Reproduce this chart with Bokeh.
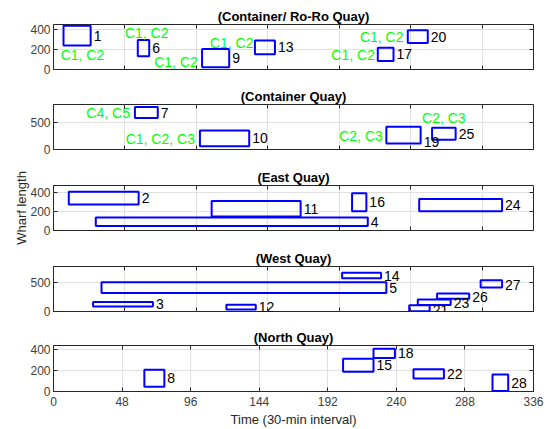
from bokeh.plotting import figure
from bokeh.models import ColumnDataSource, LinearAxis, FixedTicker, Range1d
from bokeh.layouts import column
from bokeh.embed import file_html
from bokeh.resources import INLINE
from bokeh.core.properties import value

FONT = "Liberation Sans"
AXC = "#262626"

# ---------------- data ----------------
x_ticks_top = [0, 50, 100, 150, 200, 250, 300]
x_ticks_bottom = [0, 48, 96, 144, 192, 240, 288, 336]

# (Container/ Ro-Ro Quay)
roro_ids = ["1", "6", "9", "13", "17", "20"]
roro_x0 = [7, 59, 104, 141, 227, 248]
roro_x1 = [26, 67, 123, 155, 238, 262]
roro_y0 = [240, 132, 23, 152, 85, 264]
roro_y1 = [437, 294, 205, 291, 218, 393]
roro_tag_text = ["C1, C2", "C1, C2", "C1, C2", "C1, C2", "C1, C2", "C1, C2"]
roro_tag_x = [5, 50, 101, 140, 225, 245]
roro_tag_y = [150, 368, 74, 269, 150, 324]
roro_tag_align = ["left", "left", "right", "right", "right", "right"]

# (Container Quay)
cont_ids = ["7", "10", "19", "25"]
cont_x0 = [57, 102.5, 233, 265]
cont_x1 = [73, 137, 257, 281.5]
cont_y0 = [586, 60, 110, 183]
cont_y1 = [793, 353, 427, 408]
cont_num_y = [None, None, 137, None]
cont_tag_text = ["C4, C5", "C1, C2, C3", "C2, C3", "C2, C3"]
cont_tag_x = [53.5, 99, 230.5, 258]
cont_tag_y = [674, 187, 260, 582]
cont_tag_align = ["right", "right", "right", "left"]

# (East Quay)
east_ids = ["2", "4", "11", "16", "24"]
east_x0 = [10.7, 29.6, 110.7, 209, 256]
east_x1 = [59.6, 220, 173, 219, 314]
east_y0 = [271, 46, 146, 202, 202]
east_y1 = [406, 135, 307, 390, 330]

# (West Quay)
west_ids = ["3", "5", "12", "14", "21", "23", "26", "27"]
west_x0 = [27.7, 33.6, 121, 202, 249, 255, 268.5, 299]
west_x1 = [69.6, 233, 141.6, 229.3, 263.3, 278, 291, 314]
west_y0 = [84, 320, 34, 572, 5, 113, 219, 415]
west_y1 = [163, 505, 118, 668, 106, 207, 308, 539]
west_num_y = [None, None, None, None, 20, 140, 255, 460]

# (North Quay)
north_ids = ["8", "15", "18", "22", "28"]
north_x0 = [63.6, 202.7, 224, 252, 307.3]
north_x1 = [77.6, 224, 239, 273.3, 318.3]
north_y0 = [45, 188, 321, 124, 5]
north_y1 = [207, 314, 410, 213, 162]


def style_axis(ax, ticks, show_labels, standoff=3):
    ax.ticker = FixedTicker(ticks=ticks)
    ax.major_tick_in = 4
    ax.major_tick_out = 0
    ax.minor_tick_line_color = None
    ax.axis_line_color = None
    ax.major_tick_line_color = AXC
    ax.major_label_text_font = FONT
    if show_labels:
        ax.major_label_text_color = "#404040"
        ax.major_label_text_font_size = "12px"
        ax.major_label_standoff = standoff
    else:
        ax.major_label_text_color = None
        ax.major_label_text_font_size = "0px"
        ax.major_label_standoff = 0


def make_fig(title, ids, x0, x1, y0, y1, ymax, yticks, bottom_ticks, xlabels,
             height, top_b, bottom_b, num_y=None, tags=None):
    p = figure(width=550, height=height, output_backend="svg", toolbar_location=None,
               x_range=Range1d(0, 336), y_range=Range1d(0, ymax),
               min_border_left=53, min_border_right=17,
               min_border_top=top_b, min_border_bottom=bottom_b,
               title=title)
    p.title.text_font = FONT
    p.title.text_font_size = "13px"
    p.title.text_font_style = "bold"
    p.title.text_color = "black"
    p.title.align = "center"
    p.title.standoff = 2
    p.outline_line_color = AXC
    p.outline_line_width = 1
    p.background_fill_color = "white"
    p.border_fill_color = "white"

    style_axis(p.below[0], bottom_ticks, xlabels, standoff=5)
    style_axis(p.left[0], yticks, True, standoff=3)
    ax_top = LinearAxis()
    style_axis(ax_top, bottom_ticks, False)
    p.add_layout(ax_top, "above")
    ax_right = LinearAxis()
    style_axis(ax_right, yticks, False)
    p.add_layout(ax_right, "right")

    p.xgrid.grid_line_color = "#e0e0e0"
    p.ygrid.grid_line_color = "#e0e0e0"

    src = ColumnDataSource(dict(x0=x0, x1=x1, y0=y0, y1=y1))
    p.quad(left="x0", right="x1", bottom="y0", top="y1", source=src,
           fill_color=None, line_color="#0000ff", line_width=2)

    ly = []
    for i in range(len(ids)):
        if num_y is not None and num_y[i] is not None:
            ly.append(num_y[i])
        else:
            ly.append((y0[i] + y1[i]) / 2)
    nsrc = ColumnDataSource(dict(x=x1, y=ly, t=ids))
    p.text(x="x", y="y", text="t", source=nsrc, x_offset=3,
           text_font=value(FONT), text_font_size=value("14px"),
           text_align="left", text_baseline="middle", text_color="black")

    if tags is not None:
        tt, tx, ty, ta = tags
        for align in ("left", "right"):
            idx = [i for i in range(len(tt)) if ta[i] == align]
            if not idx:
                continue
            tsrc = ColumnDataSource(dict(x=[tx[i] for i in idx], y=[ty[i] for i in idx],
                                         t=[tt[i] for i in idx]))
            p.text(x="x", y="y", text="t", source=tsrc,
                   text_font=value(FONT), text_font_size=value("14px"),
                   text_align=align, text_baseline="middle", text_color="#00ff00")
    return p


p1 = make_fig("(Container/ Ro-Ro Quay)", roro_ids, roro_x0, roro_x1, roro_y0, roro_y1,
              450, [0, 200, 400], x_ticks_top, False, 85, 24, 16,
              tags=(roro_tag_text, roro_tag_x, roro_tag_y, roro_tag_align))
p2 = make_fig("(Container Quay)", cont_ids, cont_x0, cont_x1, cont_y0, cont_y1,
              840, [0, 500], x_ticks_top, False, 81, 19, 17, num_y=cont_num_y,
              tags=(cont_tag_text, cont_tag_x, cont_tag_y, cont_tag_align))
p3 = make_fig("(East Quay)", east_ids, east_x0, east_x1, east_y0, east_y1,
              470, [0, 200, 400], x_ticks_top, False, 80, 19, 16)
ya = p3.left[0]
ya.axis_label = "Wharf length"
ya.axis_label_text_font = FONT
ya.axis_label_text_font_size = "13px"
ya.axis_label_text_font_style = "normal"
ya.axis_label_text_color = AXC
ya.axis_label_standoff = -2
p4 = make_fig("(West Quay)", west_ids, west_x0, west_x1, west_y0, west_y1,
              775, [0, 500], x_ticks_top, False, 80, 20, 15, num_y=west_num_y)
p5 = make_fig("(North Quay)", north_ids, north_x0, north_x1, north_y0, north_y1,
              440, [0, 200, 400], x_ticks_bottom, True, 103, 19, 38)
xa = p5.below[0]
xa.axis_label = "Time (30-min interval)"
xa.axis_label_text_font = FONT
xa.axis_label_text_font_size = "13px"
xa.axis_label_text_font_style = "normal"
xa.axis_label_text_color = AXC
xa.axis_label_standoff = 3

layout = column(p1, p2, p3, p4, p5, spacing=0)
open("out.html", "w").write(file_html(layout, INLINE))
